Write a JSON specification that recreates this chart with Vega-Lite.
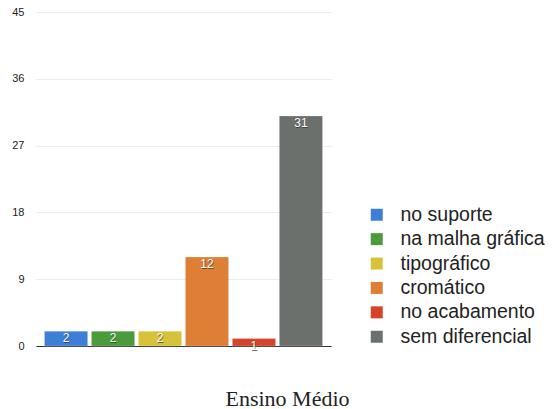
{
  "$schema": "https://vega.github.io/schema/vega-lite/v6.json",
  "width": 295,
  "height": 334,
  "autosize": {"type": "none"},
  "padding": {"left": 36, "top": 12, "right": 223, "bottom": 63},
  "background": "white",
  "title": {
    "text": "Ensino Médio",
    "orient": "bottom",
    "anchor": "middle",
    "dx": 104,
    "offset": 36,
    "font": "Liberation Serif",
    "fontSize": 22,
    "fontWeight": "normal",
    "color": "#222222"
  },
  "config": {
    "view": {"stroke": null},
    "font": "Liberation Sans"
  },
  "data": {
    "values": [
      {"categoria": "no suporte", "valor": 2},
      {"categoria": "na malha gráfica", "valor": 2},
      {"categoria": "tipográfico", "valor": 2},
      {"categoria": "cromático", "valor": 12},
      {"categoria": "no acabamento", "valor": 1},
      {"categoria": "sem diferencial", "valor": 31}
    ]
  },
  "encoding": {
    "x": {
      "field": "categoria",
      "type": "nominal",
      "sort": null,
      "scale": {"paddingInner": 0.08, "paddingOuter": 0.18},
      "axis": {"labels": false, "ticks": false, "title": null, "domainColor": "#333333", "domainWidth": 1.2, "grid": false}
    },
    "y": {
      "field": "valor",
      "type": "quantitative",
      "scale": {"domain": [0, 45], "nice": false},
      "axis": {
        "values": [0, 9, 18, 27, 36, 45],
        "title": null,
        "domain": false,
        "ticks": false,
        "labelPadding": 12,
        "labelFontSize": 11,
        "labelColor": "#222222",
        "gridColor": "#ebebeb",
        "gridWidth": 1
      }
    }
  },
  "layer": [
    {
      "mark": {"type": "bar", "stroke": "white", "strokeOpacity": 0.5, "strokeWidth": 0.5},
      "encoding": {
        "color": {
          "field": "categoria",
          "type": "nominal",
          "sort": null,
          "scale": {"range": ["#3d7ed6", "#4b9a3c", "#d8c23a", "#df7f36", "#d4432a", "#6b706d"]},
          "legend": {
            "title": null,
            "orient": "none",
            "legendX": 331,
            "legendY": 193,
            "symbolType": "square",
            "symbolSize": 144,
            "symbolStrokeWidth": 0,
            "labelFontSize": 19.5,
            "labelColor": "#222222",
            "labelFont": "Liberation Sans",
            "rowPadding": 3.4,
            "labelOffset": 14
          }
        }
      }
    },
    {
      "mark": {"type": "text", "baseline": "top", "dy": 3, "dx": 0.6, "fontSize": 12, "fill": "#333333", "opacity": 0.7},
      "encoding": {"text": {"field": "valor", "type": "quantitative"}}
    },
    {
      "mark": {"type": "text", "baseline": "top", "dy": 2, "fontSize": 12, "fill": "white"},
      "encoding": {"text": {"field": "valor", "type": "quantitative"}}
    }
  ]
}
